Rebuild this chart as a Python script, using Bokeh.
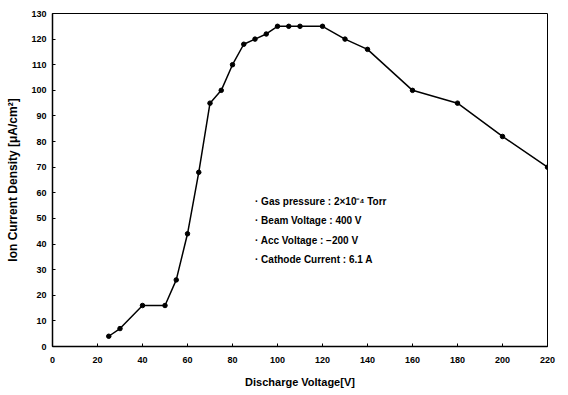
from bokeh.plotting import figure
from bokeh.models import Range1d, FixedTicker, Label
from bokeh.embed import file_html
from bokeh.resources import INLINE

voltage = [25, 30, 40, 50, 55, 60, 65, 70, 75, 80, 85, 90, 95, 100, 105, 110, 120, 130, 140, 160, 180, 200, 220]
current = [4, 7, 16, 16, 26, 44, 68, 95, 100, 110, 118, 120, 122, 125, 125, 125, 125, 120, 116, 100, 95, 82, 70]
x_ticks = [0, 20, 40, 60, 80, 100, 120, 140, 160, 180, 200, 220]
y_ticks = [0, 10, 20, 30, 40, 50, 60, 70, 80, 90, 100, 110, 120, 130]
notes = ["\u00b7 Gas pressure : 2\u00d710\u207b\u2074 Torr",
         "\u00b7 Beam Voltage : 400 V",
         "\u00b7 Acc Voltage : \u2212200 V",
         "\u00b7 Cathode Current : 6.1 A"]

FONT = "Liberation Sans"

p = figure(width=564, height=392, output_backend="svg", toolbar_location=None,
           x_range=Range1d(0, 220), y_range=Range1d(0, 130),
           min_border_left=52, min_border_right=17, min_border_top=13, min_border_bottom=46)
p.xgrid.visible = False
p.ygrid.visible = False
p.outline_line_color = "black"
p.outline_line_width = 1
p.background_fill_color = "white"
p.border_fill_color = "white"

p.line(voltage, current, line_color="black", line_width=1.5)
p.scatter(voltage, current, size=4.5, fill_color="black", line_color="black")

for ax in (p.xaxis[0], p.yaxis[0]):
    ax.major_label_text_font = FONT
    ax.major_label_text_font_style = "bold"
    ax.major_label_text_font_size = "9px"
    ax.major_label_text_color = "black"
    ax.axis_label_text_font = FONT
    ax.axis_label_text_font_style = "bold"
    ax.axis_label_text_font_size = "11px"
    ax.axis_label_text_color = "black"
    ax.axis_line_color = "black"
    ax.axis_line_width = 1.5
    ax.major_tick_in = 3
    ax.major_tick_out = 0
    ax.minor_tick_line_color = None
    ax.major_tick_line_color = "black"

p.yaxis[0].axis_label_text_font_size = "12px"
p.xaxis.ticker = FixedTicker(ticks=x_ticks)
p.yaxis.ticker = FixedTicker(ticks=y_ticks)
p.xaxis.axis_label = "Discharge Voltage[V]"
p.yaxis.axis_label = "Ion Current Density [\u03bcA/cm\u00b2]"
p.xaxis.major_label_standoff = 10
p.yaxis.major_label_standoff = 6
p.xaxis.axis_label_standoff = 10
p.yaxis.axis_label_standoff = 8

ys = [56.5, 49, 41.5, 34]
for t, yv in zip(notes, ys):
    p.add_layout(Label(x=90, y=yv, text=t, text_font=FONT, text_font_style="bold",
                       text_font_size="10px", text_color="black", text_baseline="middle"))

open("out.html", "w").write(file_html(p, INLINE))
